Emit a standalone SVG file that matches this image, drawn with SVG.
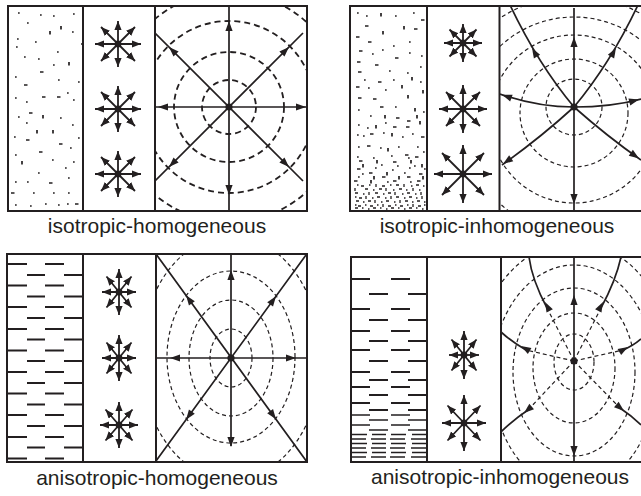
<svg xmlns="http://www.w3.org/2000/svg" xmlns:xlink="http://www.w3.org/1999/xlink" width="641" height="496" viewBox="0 0 641 496">
<style>
.frame{fill:none;stroke:#231f20;stroke-width:2}
.div{stroke:#231f20;stroke-width:2}
.mk{fill:none;stroke:#231f20;stroke-width:1.7;stroke-linecap:butt}
.mk2{fill:none;stroke:#231f20;stroke-width:1.3;stroke-linecap:butt}
.dsh{fill:none;stroke:#231f20;stroke-width:2;stroke-linecap:butt}
.dsh2{fill:none;stroke:#231f20;stroke-width:1.5;stroke-linecap:butt}
.wf1{fill:none;stroke:#231f20;stroke-width:1.8;stroke-dasharray:6 4}
.wf{fill:none;stroke:#231f20;stroke-width:1.2;stroke-dasharray:4 3}
.ray{fill:none;stroke:#231f20;stroke-width:1.7}
.st{stroke:#231f20;stroke-width:1.8;marker-start:url(#sa);marker-end:url(#sa)}
.dot{fill:#231f20}
.lbl{font-family:"Liberation Sans",Arial,sans-serif;font-size:21px;fill:#231f20;text-anchor:middle}
</style>
<defs>
<marker id="sa" markerUnits="userSpaceOnUse" markerWidth="10" markerHeight="8" refX="9" refY="3.6" orient="auto-start-reverse"><path d="M0,0 L9,3.6 L0,7.2 Z" fill="#231f20"/></marker>
<path id="ah" d="M0,0 L-10,-3.6 L-10,3.6 Z" fill="#231f20"/>
<clipPath id="c1"><rect x="155" y="6" width="152" height="205"/></clipPath>
<clipPath id="c2"><rect x="500" y="6" width="141" height="205"/></clipPath>
<clipPath id="c3"><rect x="156" y="254" width="151" height="208"/></clipPath>
<clipPath id="c4"><rect x="501" y="257" width="140" height="205"/></clipPath>
</defs>
<rect width="641" height="496" fill="#fff"/>

<g id="panel-isotropic-homogeneous">
<path class="mk" d="M18,13h1.7 M40,15h1.7 M53,16h1.7 M73,14h1.7 M27,23h1.7 M61,26v3.5 M72,32h1.7 M50,31v3.5 M17,39h1.7 M35,42h1.7 M16,47h1.7 M81,44h1.7 M57,52h1.7 M24,57h1.7 M38,59h1.7 M53,65h1.7 M69,62v3.5 M40,72h3.5 M15,77h1.7 M58,80h1.7 M78,82h1.7 M24,85h3.5 M15,98h1.7 M42,97h3.5 M57,97h3.5 M67,93h1.7 M26,102h1.7 M73,100h1.7 M29,113h3.5 M18,117h1.7 M43,115v3.5 M60,118h1.7 M72,125h1.7 M26,123h1.7 M37,130v3.5 M53,130v3.5 M14,137h1.7 M78,138h1.7 M26,140h3.5 M59,144h3.5 M70,148h1.7 M39,152h3.5 M15,155h1.7 M52,160h1.7 M73,162h1.7 M22,161v3.5 M65,168h1.7 M38,173h1.7 M15,182h1.7 M27,182h1.7 M49,183h3.5 M68,178h1.7 M11,193h3.5 M33,193h1.7 M53,193h1.7 M68,193h1.7 M15,205h1.7 M30,206h1.7 M45,204h1.7 M58,205h1.7 M67,204h1.7 M75,204h3.5"/>
<g id="stars-1">
<line class="st" x1="95" y1="44" x2="141" y2="44"/><line class="st" x1="118" y1="21" x2="118" y2="67"/><line class="st" x1="101" y1="27" x2="135" y2="61"/><line class="st" x1="135" y1="27" x2="101" y2="61"/><circle class="dot" cx="118" cy="44" r="3.4"/>
<line class="st" x1="95" y1="109" x2="141" y2="109"/><line class="st" x1="118" y1="86" x2="118" y2="132"/><line class="st" x1="101" y1="92" x2="135" y2="126"/><line class="st" x1="135" y1="92" x2="101" y2="126"/><circle class="dot" cx="118" cy="109" r="3.4"/>
<line class="st" x1="95" y1="174" x2="141" y2="174"/><line class="st" x1="118" y1="151" x2="118" y2="197"/><line class="st" x1="101" y1="157" x2="135" y2="191"/><line class="st" x1="135" y1="157" x2="101" y2="191"/><circle class="dot" cx="118" cy="174" r="3.4"/>
</g>
<g clip-path="url(#c1)">
<circle class="wf1" cx="229" cy="107" r="27"/><circle class="wf1" cx="229" cy="107" r="55"/><circle class="wf1" cx="229" cy="107" r="86"/><circle class="wf1" cx="229" cy="107" r="115"/>
<path class="ray" d="M229,6V211 M155,107H307 M155,33L303,181 M155,181L303,33"/>
<use href="#ah" transform="translate(229,21) rotate(-90)"/><use href="#ah" transform="translate(229,195) rotate(90)"/>
<use href="#ah" transform="translate(158,107) rotate(180)"/><use href="#ah" transform="translate(306,107)"/>
<use href="#ah" transform="translate(169,47) rotate(-135)"/><use href="#ah" transform="translate(289,47) rotate(-45)"/>
<use href="#ah" transform="translate(169,167) rotate(135)"/><use href="#ah" transform="translate(289,167) rotate(45)"/>
<circle class="dot" cx="229" cy="107" r="3.6"/>
</g>
<rect class="frame" x="8" y="6" width="299" height="205"/>
<path class="div" d="M83,6V211 M155,6V211"/>
<text class="lbl" x="157" y="233">isotropic-homogeneous</text>
</g>

<g id="panel-isotropic-inhomogeneous">
<path class="mk" d="M357,13h1.7 M366,16h1.7 M381,13v3.5 M395,16h1.7 M413,13h1.7 M421,20h3.5 M365,26h3.5 M404,26v3.5 M414,29h3.5 M356,37h3.5 M383,31v3.5 M368,42h3.5 M409,42h1.7 M393,46h1.7 M359,51h3.5 M382,50h1.7 M372,54h1.7 M395,58h3.5 M409,53h1.7 M421,56h1.7 M357,62h3.5 M375,65h3.5 M389,71h1.7 M407,73h1.7 M420,67h1.7 M358,72h3.5 M364,80h1.7 M378,82h3.5 M393,80h1.7 M402,85v3.5 M420,82h1.7 M412,77v3.5 M356,87h3.5 M368,88h1.7 M385,90h1.7 M423,90v3.5 M358,98h3.5 M373,99h3.5 M408,95v3.5 M380,107h3.5 M395,107h1.7 M415,108v3.5 M423,112h1.7 M358,110h1.7 M370,116h1.7 M385,115v3.5 M396,118h3.5 M407,121h3.5 M417,115v3.5 M358,125h1.7 M367,128h1.7 M376,125v3.5 M385,123h1.7 M393,127h3.5 M406,127h3.5 M420,121v3.5 M357,135h1.7 M363,136h1.7 M370,134h3.5 M383,133h1.7 M392,133v3.5 M402,137h1.7 M412,134h1.7 M421,137h3.5 M358,147h1.7 M367,146h3.5 M380,148h1.7 M388,148v3.5 M398,147h1.7 M405,155h3.5 M417,147h1.7 M423,152h1.7
M357,157h1.7 M373,158h1.7 M391,156h1.7 M408,158h1.7 M415,157h3.5
M359,161h3.5 M377,160v3.5 M393,162h3.5 M411,160v3.5
M363,164v3.5 M381,165h1.7 M397,166h1.7 M414,166h1.7 M422,164v3.5
M357,169h3.5 M375,168h1.7 M392,170h1.7 M409,168h1.7 M424,169h1.7
M362,174h1.7 M369,173h3.5 M387,172v3.5 M404,173h1.7 M419,174h3.5
M358,177h1.7 M374,176v3.5 M382,177h3.5 M399,176v3.5 M407,177h3.5 M423,176v3.5
M354,181h3.5 M371,180v3.5 M387,182h1.7 M393,181h3.5 M410,182h1.7 M417,181h3.5"/>
<path class="mk2" d="M357,185h1.5 M361,186h3 M369,185h1.5 M376,184v3 M382,186h3 M390,185h1.5 M396,185h3 M404,184v3 M411,186h1.5 M416,185h3 M423,186h1.5
M355,188v3 M365,189h3 M373,190h1.5 M379,189h3 M386,188v3 M393,190h1.5 M399,189h3 M406,190h1.5 M413,188v3 M419,190h1.5
M355,193h3 M363,194h1.5 M369,192v3 M375,193h3 M383,194h1.5 M388,193h3 M395,192v3 M402,194h1.5 M407,193h3 M415,194h1.5 M421,192v3
M355,197h1.5 M359,198h3 M366,196v3 M372,198h1.5 M377,197h3 M385,198h1.5 M391,196v3 M396,197h3 M404,198h1.5 M409,197h3 M416,198h1.5 M422,196v3
M356,201h3 M363,202h1.5 M368,201h3 M375,200v3 M381,202h1.5 M386,201h3 M394,202h1.5 M400,200v3 M405,201h3 M412,202h1.5 M417,201h3 M424,202h1.5
M355,205h1.5 M358,206h3 M365,205h1.5 M370,206h3 M377,205h1.5 M383,204v3 M388,206h3 M395,205h1.5 M400,206h3 M407,205h1.5 M413,204v3 M418,206h3 M424,205h1.5
M355,208h3 M362,208h1.5 M368,209h1.5 M373,208h3 M380,208h1.5 M386,209h1.5 M391,208h3 M398,208h1.5 M404,209h1.5 M409,208h3 M416,208h1.5 M422,209h1.5"/>
<g id="stars-2">
<line class="st" x1="444" y1="43" x2="482" y2="43"/><line class="st" x1="463" y1="24" x2="463" y2="62"/><line class="st" x1="449.5" y1="29.5" x2="476.5" y2="56.5"/><line class="st" x1="476.5" y1="29.5" x2="449.5" y2="56.5"/><circle class="dot" cx="463" cy="43" r="3.4"/>
<line class="st" x1="439" y1="109" x2="487" y2="109"/><line class="st" x1="463" y1="85" x2="463" y2="133"/><line class="st" x1="446" y1="92" x2="480" y2="126"/><line class="st" x1="480" y1="92" x2="446" y2="126"/><circle class="dot" cx="463" cy="109" r="3.4"/>
<line class="st" x1="434" y1="174" x2="492" y2="174"/><line class="st" x1="463" y1="145" x2="463" y2="203"/><line class="st" x1="442" y1="153" x2="484" y2="195"/><line class="st" x1="484" y1="153" x2="442" y2="195"/><circle class="dot" cx="463" cy="174" r="3.4"/>
</g>
<g clip-path="url(#c2)">
<circle class="wf" cx="574" cy="107" r="28"/><circle class="wf" cx="574" cy="113" r="54"/><circle class="wf" cx="574" cy="119" r="84"/><circle class="wf" cx="574" cy="125" r="108"/><circle class="wf" cx="574" cy="131" r="135"/>
<path class="ray" d="M574,8V210 M574,107Q537,107 500,94 M574,107Q611,107 641,99 M574,107Q538,64 510,5 M574,107Q610,64 638,5 M574,107Q540,138 502,165 M574,107Q608,137 641,160"/>
<use href="#ah" transform="translate(574,37) rotate(-90)"/><use href="#ah" transform="translate(574,204) rotate(90)"/>
<use href="#ah" transform="translate(502,94.7) rotate(-160)"/><use href="#ah" transform="translate(639,99.5) rotate(-15)"/>
<use href="#ah" transform="translate(532,48) rotate(-120)"/><use href="#ah" transform="translate(616,48) rotate(-60)"/>
<use href="#ah" transform="translate(503,164) rotate(145)"/><use href="#ah" transform="translate(639,158.5) rotate(35)"/>
<circle class="dot" cx="574" cy="107" r="3.6"/>
</g>
<rect class="frame" x="350" y="6" width="295" height="205"/>
<path class="div" d="M427,6V211 M499.5,6V211"/>
<text class="lbl" x="497" y="233">isotropic-inhomogeneous</text>
</g>

<g id="panel-anisotropic-homogeneous">
<path class="dsh" d="M8,264h19M45,264h19 M27,275h18M64,275h19 M8,285.5h19M45,285.5h19 M27,296.5h18M64,296.5h19 M8,307h19M45,307h19 M27,318h18M64,318h19 M8,329h19M45,329h19 M27,339.5h18M64,339.5h19 M8,350.5h19M45,350.5h19 M27,361h18M64,361h19 M8,372h19M45,372h19 M27,383h18M64,383h19 M8,393.5h19M45,393.5h19 M27,404.5h18M64,404.5h19 M8,415h19M45,415h19 M27,426h18M64,426h19 M8,437h19M45,437h19 M27,447.5h18M64,447.5h19 M8,458.5h19M45,458.5h19"/>
<g id="stars-3">
<line class="st" x1="102" y1="292" x2="136" y2="292"/><line class="st" x1="119" y1="269" x2="119" y2="315"/><line class="st" x1="106.5" y1="276.5" x2="131.5" y2="307.5"/><line class="st" x1="131.5" y1="276.5" x2="106.5" y2="307.5"/><circle class="dot" cx="119" cy="292" r="3.4"/>
<line class="st" x1="102" y1="358" x2="136" y2="358"/><line class="st" x1="119" y1="335" x2="119" y2="381"/><line class="st" x1="106.5" y1="342.5" x2="131.5" y2="373.5"/><line class="st" x1="131.5" y1="342.5" x2="106.5" y2="373.5"/><circle class="dot" cx="119" cy="358" r="3.4"/>
<line class="st" x1="100" y1="425" x2="138" y2="425"/><line class="st" x1="119" y1="402" x2="119" y2="448"/><line class="st" x1="105.5" y1="409.5" x2="132.5" y2="440.5"/><line class="st" x1="132.5" y1="409.5" x2="105.5" y2="440.5"/><circle class="dot" cx="119" cy="425" r="3.4"/>
</g>
<g clip-path="url(#c3)">
<ellipse class="wf" cx="231" cy="358" rx="21" ry="29"/><ellipse class="wf" cx="231" cy="358" rx="42" ry="58"/><ellipse class="wf" cx="231" cy="357" rx="64" ry="86"/><ellipse class="wf" cx="231" cy="358" rx="90" ry="122"/>
<path class="ray" d="M231,254V446 M156,358H307 M156,254L307,462 M306,255L156,461"/>
<use href="#ah" transform="translate(231,270) rotate(-90)"/><use href="#ah" transform="translate(231,447) rotate(90)"/>
<use href="#ah" transform="translate(170,358) rotate(180)"/><use href="#ah" transform="translate(296,358)"/>
<use href="#ah" transform="translate(186,295.3) rotate(-126)"/><use href="#ah" transform="translate(276,296.2) rotate(-54)"/>
<use href="#ah" transform="translate(186,419.8) rotate(126)"/><use href="#ah" transform="translate(276,419.3) rotate(54)"/>
<circle class="dot" cx="231" cy="358" r="3.6"/>
</g>
<rect class="frame" x="7" y="254" width="300" height="208"/>
<path class="div" d="M83,254V462 M156,254V462"/>
<text class="lbl" x="157" y="485">anisotropic-homogeneous</text>
</g>

<g id="panel-anisotropic-inhomogeneous">
<path class="dsh" d="M352,279h18M391,279h19 M369,294h19M408,294h19 M352,309h18M391,309h19 M369,320h19M408,320h19 M352,331h18M391,331h19 M369,341h19M408,341h19 M352,350h18M391,350h19 M369,361h19M408,361h19 M352,372h18M391,372h19 M369,380h19M408,380h19 M352,387h18M391,387h19 M369,395h19M408,395h19 M352,403h18M391,403h19 M369,410h19M408,410h19"/>
<path class="dsh2" d="M352,415h18M391,415h19 M369,420h19M408,420h19 M352,425h18M391,425h19 M369,430h19M408,430h19 M352,434.5h15M372,434.5h14M391,434.5h15M412,434.5h15 M352,439h14M371,439h15M390,439h15M411,439h16 M352,443.5h15M372,443.5h14M391,443.5h15M412,443.5h15 M352,448h14M371,448h15M390,448h15M411,448h16 M352,452.5h15M372,452.5h14M391,452.5h15M412,452.5h15 M352,457h14M371,457h15M390,457h15M411,457h16"/>
<g id="stars-4">
<line class="st" x1="449" y1="355" x2="479" y2="355"/><line class="st" x1="464" y1="331" x2="464" y2="379"/><line class="st" x1="451.5" y1="339.5" x2="476.5" y2="370.5"/><line class="st" x1="476.5" y1="339.5" x2="451.5" y2="370.5"/><circle class="dot" cx="464" cy="355" r="3.4"/>
<line class="st" x1="442" y1="423" x2="486" y2="423"/><line class="st" x1="464" y1="395" x2="464" y2="451"/><line class="st" x1="447.5" y1="405.5" x2="480.5" y2="440.5"/><line class="st" x1="480.5" y1="405.5" x2="447.5" y2="440.5"/><circle class="dot" cx="464" cy="423" r="3.4"/>
</g>
<g clip-path="url(#c4)">
<ellipse class="wf" cx="574" cy="362" rx="20" ry="28"/><ellipse class="wf" cx="574" cy="368" rx="41" ry="55"/><ellipse class="wf" cx="574" cy="372" rx="61" ry="84"/><ellipse class="wf" cx="574" cy="377" rx="82" ry="112"/><ellipse class="wf" cx="574" cy="382" rx="103" ry="140"/>
<path class="wf" d="M574,361L547,308 M574,361L601,308 M574,361L526,350 M574,361L623,350 M574,361L528,410 M574,361L620,408"/>
<path class="ray" d="M574,257V462 M547,308Q532,280 529,257 M601,308Q616,280 621,257 M501,332Q512,342 526,350 M641,339Q633,346 623,350 M501,432Q513,420 528,410 M641,425Q632,416 620,408"/>
<use href="#ah" transform="translate(574,295) rotate(-90)"/><use href="#ah" transform="translate(574,456) rotate(90)"/>
<use href="#ah" transform="translate(545,302) rotate(-118)"/><use href="#ah" transform="translate(603,302) rotate(-62)"/>
<use href="#ah" transform="translate(521,346) rotate(-150)"/><use href="#ah" transform="translate(628,347) rotate(-30)"/>
<use href="#ah" transform="translate(524,413) rotate(140)"/><use href="#ah" transform="translate(624,411) rotate(40)"/>
<circle class="dot" cx="574" cy="361" r="3.6"/>
</g>
<rect class="frame" x="351" y="257" width="294" height="205"/>
<path class="div" d="M427,257V462 M501,257V462"/>
<text class="lbl" x="500" y="484">anisotropic-inhomogeneous</text>
</g>
</svg>
